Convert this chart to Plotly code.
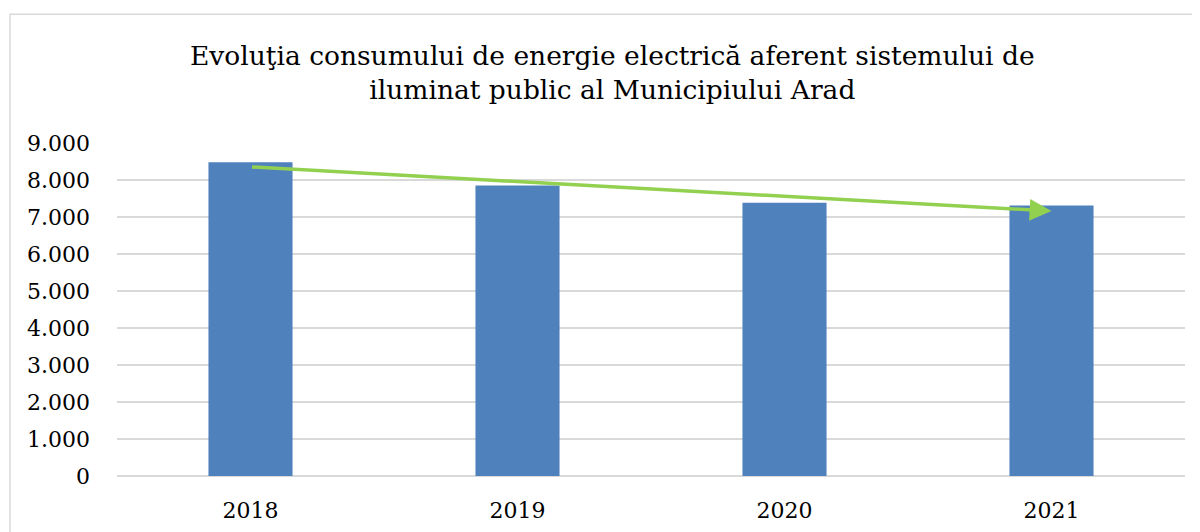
import plotly.graph_objects as go
import numpy as np

years = ["2018", "2019", "2020", "2021"]
consum = [8481, 7852, 7385, 7312]
y_ticks = [0, 1000, 2000, 3000, 4000, 5000, 6000, 7000, 8000, 9000]
y_tick_labels = ["0", "1.000", "2.000", "3.000", "4.000", "5.000", "6.000", "7.000", "8.000", "9.000"]
title_lines = ["Evoluţia consumului de energie electrică aferent sistemului de",
               "iluminat public al Municipiului Arad"]

FONT = "DejaVu Serif"
W, H = 1200, 532
OFF = 8  # page body margin
ml, mr, mt, mb = 117 - OFF, 23, 142.5 - OFF, 64
pw = W - ml - mr
ph = H - mt - mb

# linear trend (Excel-style trendline)
xi = np.arange(1, len(consum) + 1)
slope, intercept = np.polyfit(xi, consum, 1)
trend_start = float(slope * xi[0] + intercept)
trend_end = float(slope * xi[-1] + intercept)

fig = go.Figure()
fig.add_trace(go.Bar(x=years, y=consum, marker=dict(color="#4F81BD", line=dict(width=0)),
                     hoverinfo="x+y"))

fig.add_annotation(x=len(years) - 1, y=trend_end, ax=0, ay=trend_start,
                   xref="x", yref="y", axref="x", ayref="y",
                   text="", showarrow=True, arrowhead=2, arrowsize=1.25,
                   arrowwidth=3.5, arrowcolor="#92D050", standoff=0, startstandoff=0)

def px_x(p):
    return (p - OFF - ml) / pw

def px_y(p):
    return 1 - (p - OFF - mt) / ph

fig.add_annotation(x=px_x(612), y=px_y(72), xref="paper", yref="paper",
                   text="<br>".join(title_lines), showarrow=False,
                   font=dict(family=FONT, size=26.5, color="#000000"),
                   xanchor="center", yanchor="middle", align="center")

fig.add_shape(type="rect", xref="paper", yref="paper",
              x0=px_x(10), y0=px_y(600), x1=px_x(1260), y1=px_y(13.5),
              line=dict(color="#D9D9D9", width=1.5), fillcolor="rgba(0,0,0,0)", layer="below")

fig.update_layout(
    width=W, height=H,
    margin=dict(l=ml, r=mr, t=mt, b=mb),
    paper_bgcolor="white", plot_bgcolor="white",
    bargap=0.685, showlegend=False,
    font=dict(family=FONT, size=22, color="#000000"),
    xaxis=dict(type="category", range=[-0.5, 3.5], showgrid=False, showline=False, zeroline=False,
               ticks="", ticklabelstandoff=19, tickfont=dict(family=FONT, size=22)),
    yaxis=dict(range=[0, 9000], tickvals=y_ticks, ticktext=y_tick_labels,
               showgrid=True, gridcolor="#D9D9D9", gridwidth=1.5,
               zeroline=True, zerolinecolor="#D9D9D9", zerolinewidth=1.5,
               showline=False, ticks="", ticklabelstandoff=26,
               tickfont=dict(family=FONT, size=22)),
)

fig.write_html("out.html")
